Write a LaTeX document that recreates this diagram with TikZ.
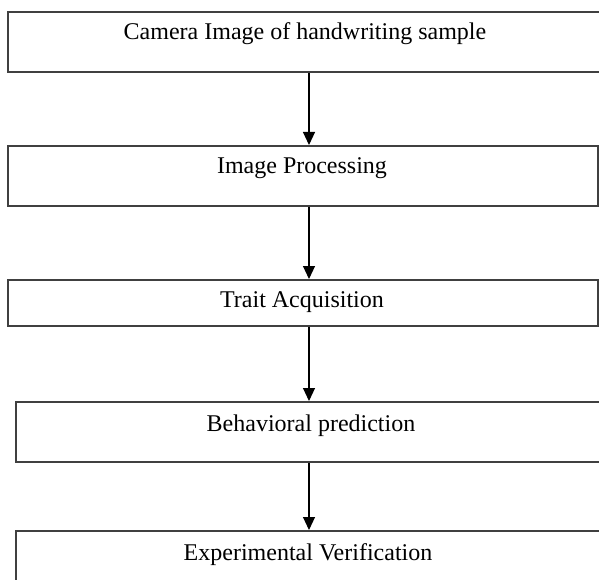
\documentclass[tikz,border=0pt]{standalone}
\usepackage{fontspec}
\setmainfont{Liberation Serif}
\usetikzlibrary{arrows.meta}
\definecolor{edge}{HTML}{404040}
\tikzset{
  stagebox/.style={draw=edge, line width=1.6pt, fill=none, rectangle, inner sep=0pt, anchor=north west},
  caption/.style={anchor=base, inner sep=0pt, text=black, font=\fontsize{24}{28}\selectfont},
  flow/.style={draw=black, line width=1.1pt, -{Triangle[length=13pt,width=12pt]}}
}
\begin{document}
\begin{tikzpicture}[x=1pt,y=-1pt]
  \useasboundingbox (0,0) rectangle (599,580);
  \clip (0,0) rectangle (599,580);
  \fill[white] (0,0) rectangle (599,580);

  % stage frames
  \node[stagebox, minimum width=600pt, minimum height=60pt] (b1) at (7,11) {};
  \node[stagebox, minimum width=590pt, minimum height=60pt] (b2) at (7,145) {};
  \node[stagebox, minimum width=590pt, minimum height=46pt] (b3) at (7,279) {};
  \node[stagebox, minimum width=592pt, minimum height=60pt] (b4) at (15,401) {};
  \node[stagebox, minimum width=592pt, minimum height=60pt] (b5) at (15,530) {};

  % stage titles
  \node[caption] (t1) at (305,40) {Camera Image of handwriting sample};
  \node[caption] (t2) at (302,174) {Image Processing};
  \node[caption] (t3) at (302,307) {Trait Acquisition};
  \node[caption] (t4) at (311,431) {Behavioral prediction};
  \node[caption] (t5) at (308,560) {Experimental Verification};

  % arrows between stages
  \coordinate (ax) at (309,0);
  \draw[flow] (b1.south -| ax) -- (b2.north -| ax);
  \draw[flow] (b2.south -| ax) -- (b3.north -| ax);
  \draw[flow] (b3.south -| ax) -- (b4.north -| ax);
  \draw[flow] (b4.south -| ax) -- (b5.north -| ax);
\end{tikzpicture}
\end{document}
